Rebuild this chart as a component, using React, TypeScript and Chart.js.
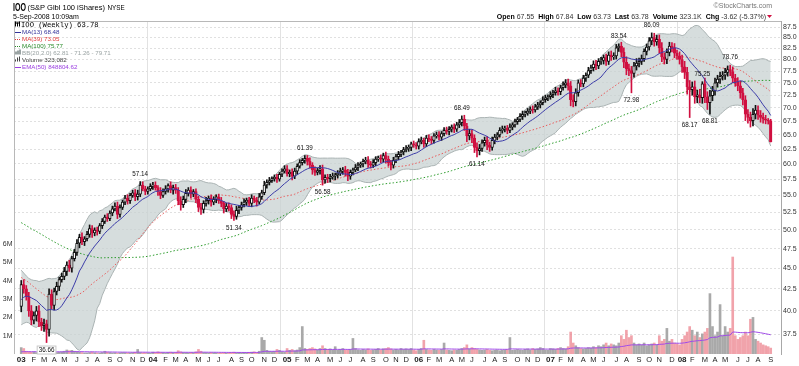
import React, { useEffect, useRef } from 'react';
import { Chart, registerables } from 'chart.js';

Chart.register(...registerables);

const FONT = '"Liberation Sans", Arial, Helvetica, sans-serif';
const MONO = '"Liberation Mono", "DejaVu Sans Mono", monospace';
const RED = '#d01040';

// Weekly closes before the visible range (feed the moving averages / bands)
const priorCloses2001 = [
  63, 62.5, 61.5, 60.5, 60, 58, 58.5, 59, 58.5, 59.5, 60.5, 61, 61.5, 61, 62, 61.5, 61, 60.5,
  59.5, 60, 59.5, 59, 59.5, 58.5, 58, 58.5, 57.5, 57, 57, 56, 54.5, 53, 49.5, 51, 52, 53, 52.5,
  53.5, 52.5, 53.5, 54, 54.5, 54, 54.5, 53.5, 54, 54.5,
];
const priorCloses2002 = [
  54, 52.5, 51.5, 50.5, 50, 49.5, 49, 48.5, 49, 49.5, 49, 48.5, 48, 48, 49.5, 49.5, 49, 49,
  49.5, 48.5, 48, 47.5, 47, 46, 45.5, 45.5, 46, 44.5, 42, 41.5, 42, 43, 44.5, 44.5, 44, 43.5,
  43, 42, 41, 38, 39, 40, 40.5, 41, 41.5, 42, 42.5, 42, 42, 41.5, 41, 40.5,
];

// Visible weekly closes (week ending 3-Jan-2003 ... 5-Sep-2008)
const closes2003 = [
  43.0, 42.5, 41.6, 40.0, 39.0, 39.5, 40.0, 38.8, 38.4, 38.6, 38.0, 41.9, 40.6, 42.2, 42.8,
  43.6, 44.0, 44.6, 45.4, 45.0, 46.2, 47.0, 48.2, 49.0, 48.4, 48.8, 49.4, 50.2, 49.6, 50.0,
  49.8, 50.6, 51.2, 51.8, 51.6, 52.4, 53.0, 53.4, 52.2, 53.2, 54.0, 54.6, 54.2, 55.0, 55.4,
  54.8, 55.2, 56.6, 56.0, 55.6, 56.0, 56.4,
];
const closes2004 = [
  56.6, 56.2, 55.6, 55.0, 55.6, 56.0, 56.5, 55.8, 56.2, 55.8, 54.2, 53.6, 54.4, 55.3, 55.8,
  55.2, 55.6, 54.4, 53.2, 52.9, 53.8, 54.2, 54.6, 54.0, 54.4, 54.8, 54.2, 53.8, 53.0, 53.4,
  53.2, 52.2, 51.9, 52.8, 53.2, 53.6, 54.0, 54.3, 53.8, 54.6, 54.3, 54.0, 54.8, 55.4, 56.6,
  57.0, 57.3, 57.6, 57.8, 57.5, 58.3, 58.8, 59.2,
];
const closes2005 = [
  58.4, 58.6, 58.0, 58.8, 59.6, 60.2, 60.6, 60.9, 60.4, 59.8, 59.0, 58.6, 58.9, 59.2, 57.4,
  57.8, 57.6, 57.9, 58.0, 58.2, 58.5, 58.8, 59.0, 58.6, 58.0, 58.6, 59.0, 59.4, 59.8, 60.0,
  60.4, 60.6, 60.0, 59.8, 60.2, 60.8, 61.0, 60.8, 61.4, 60.8, 60.2, 59.8, 60.6, 61.2, 61.6,
  62.0, 62.4, 62.6, 62.8, 63.4, 63.2, 63.0,
];
const closes2006 = [
  63.8, 64.0, 63.4, 64.4, 64.2, 64.0, 64.8, 65.0, 64.6, 65.2, 65.8, 65.6, 66.0, 66.4, 66.0,
  66.8, 67.2, 67.9, 66.6, 64.8, 65.2, 64.4, 62.8, 62.2, 62.6, 63.6, 64.0, 63.2, 62.8, 64.0,
  64.6, 65.0, 65.8, 66.0, 66.2, 65.8, 66.4, 66.8, 67.4, 67.8, 68.4, 68.8, 69.0, 69.4, 69.8,
  69.6, 70.2, 70.6, 71.0, 71.6, 72.0, 72.2,
];
const closes2007 = [
  72.6, 73.0, 73.4, 73.2, 74.0, 74.6, 75.0, 74.4, 71.6, 71.2, 73.0, 75.0, 74.8, 76.0, 76.6,
  77.6, 78.2, 79.0, 78.6, 79.6, 79.8, 80.4, 79.6, 81.0, 80.6, 80.8, 82.6, 83.0, 81.6, 79.4,
  78.0, 77.6, 77.0, 78.6, 79.2, 79.6, 80.2, 81.8, 82.8, 84.2, 85.0, 84.0, 84.6, 82.6, 80.6,
  80.0, 81.6, 83.0, 82.6, 81.4, 80.8, 80.0,
];
const closes2008 = [
  78.4, 77.2, 74.2, 73.6, 74.2, 72.2, 72.6, 72.0, 74.8, 72.2, 71.0, 72.4, 73.4, 75.0, 75.8,
  76.4, 76.6, 77.2, 77.8, 77.4, 76.0, 75.2, 74.4, 73.0, 71.6, 68.8, 68.2, 67.6, 68.8, 69.6,
  68.6, 68.2, 67.9, 67.7, 67.55, 63.78,
];

// Shadow lengths above / below the candle bodies
const wickUp2003 = [
  0.5, 0.6, 0.4, 0.5, 0.6, 0.4, 0.5, 0.6, 0.4, 0.5, 0.4, 0.6, 0.5, 0.4, 0.5, 0.3, 0.4, 0.5,
  0.4, 0.6, 0.3, 0.4, 0.5, 0.4, 0.6, 0.3, 0.4, 0.5, 0.4, 0.3, 0.4, 0.3, 0.4, 0.3, 0.5, 0.3,
  0.4, 0.5, 0.6, 0.4, 0.3, 0.4, 0.5, 0.3, 0.4, 0.5, 0.6, 0.3, 0.5, 0.4, 0.3, 0.4,
];
const wickDn2003 = [
  0.6, 0.5, 0.4, 0.6, 0.5, 0.4, 0.6, 0.5, 0.5, 0.6, 0.5, 0.7, 0.4, 0.5, 0.4, 0.5, 0.3, 0.4,
  0.5, 0.4, 0.5, 0.3, 0.4, 0.6, 0.4, 0.5, 0.3, 0.4, 0.6, 0.4, 0.5, 0.3, 0.4, 0.3, 0.4, 0.3,
  0.4, 0.3, 0.6, 0.4, 0.3, 0.4, 0.5, 0.4, 0.3, 0.6, 0.5, 0.4, 0.3, 0.5, 0.4, 0.3,
];
const wickUp2004 = [
  0.4, 0.5, 0.3, 0.6, 0.4, 0.5, 0.3, 0.6, 0.4, 0.5, 0.4, 0.6, 0.5, 0.6, 0.4, 0.5, 0.3, 0.4,
  0.5, 0.6, 0.4, 0.5, 0.3, 0.5, 0.4, 0.3, 0.4, 0.5, 0.3, 0.4, 0.5, 0.4, 0.5, 0.6, 0.3, 0.4,
  0.5, 0.3, 0.4, 0.5, 0.3, 0.4, 0.5, 0.4, 0.6, 0.4, 0.5, 0.3, 0.4, 0.5, 0.3, 0.4, 0.5,
];
const wickDn2004 = [
  0.5, 0.4, 0.6, 0.5, 0.3, 0.4, 0.5, 0.4, 0.6, 0.5, 0.6, 0.8, 0.4, 0.5, 0.4, 0.6, 0.4, 0.5,
  0.6, 0.7, 0.5, 0.4, 0.5, 0.6, 0.4, 0.5, 0.4, 0.5, 0.6, 0.4, 0.5, 0.6, 0.5, 0.4, 0.5, 0.4,
  0.3, 0.5, 0.4, 0.5, 0.4, 0.6, 0.3, 0.4, 0.3, 0.5, 0.4, 0.3, 0.4, 0.5, 0.3, 0.4, 0.3,
];
const wickUp2005 = [
  0.5, 0.4, 0.6, 0.5, 0.4, 0.5, 0.3, 0.4, 0.5, 0.6, 0.4, 0.5, 0.4, 0.5, 0.6, 0.4, 0.5, 0.4,
  0.5, 0.3, 0.4, 0.5, 0.4, 0.6, 0.5, 0.4, 0.3, 0.5, 0.4, 0.3, 0.4, 0.5, 0.6, 0.4, 0.5, 0.4,
  0.3, 0.5, 0.4, 0.6, 0.5, 0.4, 0.5, 0.4, 0.5, 0.3, 0.4, 0.5, 0.4, 0.3, 0.5, 0.4,
];
const wickDn2005 = [
  0.4, 0.5, 0.6, 0.4, 0.5, 0.3, 0.4, 0.5, 0.6, 0.5, 0.7, 0.5, 0.4, 0.6, 0.5, 0.5, 0.6, 0.5,
  0.4, 0.6, 0.5, 0.4, 0.5, 0.6, 0.7, 0.5, 0.4, 0.3, 0.5, 0.4, 0.5, 0.4, 0.6, 0.5, 0.4, 0.5,
  0.4, 0.6, 0.5, 0.7, 0.6, 0.8, 0.5, 0.4, 0.5, 0.4, 0.5, 0.4, 0.5, 0.6, 0.4, 0.5,
];
const wickUp2006 = [
  0.5, 0.6, 0.4, 0.5, 0.6, 0.5, 0.4, 0.5, 0.6, 0.4, 0.5, 0.6, 0.5, 0.4, 0.6, 0.5, 0.6, 0.6,
  0.7, 0.5, 0.8, 0.7, 0.6, 0.8, 0.7, 0.5, 0.6, 0.7, 0.5, 0.6, 0.5, 0.4, 0.5, 0.6, 0.4, 0.5,
  0.6, 0.4, 0.5, 0.4, 0.5, 0.6, 0.4, 0.5, 0.4, 0.6, 0.5, 0.5, 0.4, 0.6, 0.5, 0.4,
];
const wickDn2006 = [
  0.5, 0.4, 0.6, 0.5, 0.4, 0.6, 0.5, 0.4, 0.5, 0.6, 0.4, 0.5, 0.6, 0.5, 0.6, 0.4, 0.5, 0.6,
  0.8, 1.0, 0.7, 0.8, 0.9, 0.6, 0.7, 0.5, 0.6, 0.8, 0.7, 0.5, 0.6, 0.5, 0.4, 0.5, 0.5, 0.6,
  0.4, 0.5, 0.4, 0.5, 0.4, 0.6, 0.5, 0.4, 0.5, 0.6, 0.4, 0.5, 0.6, 0.4, 0.5, 0.6,
];
const wickUp2007 = [
  0.6, 0.5, 0.7, 0.6, 0.5, 0.6, 0.7, 0.8, 0.9, 1.0, 0.8, 0.6, 0.7, 0.6, 0.5, 0.7, 0.6, 0.7,
  0.8, 0.6, 0.7, 0.6, 0.8, 0.7, 0.9, 0.7, 0.8, 0.7, 0.9, 1.0, 1.2, 1.0, 0.9, 0.8, 1.0, 0.7,
  0.8, 0.6, 0.7, 0.8, 0.7, 1.0, 0.9, 1.0, 1.2, 0.9, 0.8, 0.9, 0.8, 1.0, 0.7, 0.9,
];
const wickDn2007 = [
  0.5, 0.6, 0.5, 0.7, 0.6, 0.5, 0.6, 0.9, 1.2, 1.0, 0.8, 0.7, 0.6, 0.6, 0.7, 0.5, 0.6, 0.7,
  0.8, 0.6, 0.7, 0.8, 0.9, 0.7, 0.8, 0.6, 0.7, 0.8, 1.0, 1.2, 1.3, 1.1, 1.0, 0.8, 0.9, 0.8,
  0.7, 0.6, 0.8, 0.7, 0.9, 1.0, 0.8, 1.2, 1.1, 1.0, 0.9, 0.8, 0.9, 1.0, 0.8, 1.0,
];
const wickUp2008 = [
  1.0, 1.2, 1.1, 1.3, 1.0, 1.2, 0.9, 1.1, 0.9, 1.2, 1.0, 1.1, 0.9, 1.0, 0.8, 0.9, 0.8, 0.9,
  0.8, 0.9, 1.0, 0.8, 0.9, 1.0, 0.9, 0.8, 0.9, 1.0, 1.1, 0.9, 0.8, 0.9, 0.8, 0.7, 0.3, 0.29,
];
const wickDn2008 = [
  1.2, 1.3, 1.5, 1.2, 1.1, 1.3, 1.2, 1.0, 1.1, 1.2, 1.3, 1.2, 1.0, 0.9, 0.8, 0.9, 0.8, 0.9,
  0.8, 0.9, 1.0, 0.9, 1.0, 1.1, 1.0, 1.2, 1.1, 1.2, 1.0, 0.9, 0.8, 0.9, 0.8, 0.7, 0.6, 0.05,
];

// Weekly volume, millions of shares
const volumes2003 = [
  0.35, 0.3, 0.15, 0.12, 0.1, 0.12, 0.08, 0.15, 0.1, 0.12, 0.18, 0.1, 0.08, 0.06, 0.08, 0.1,
  0.12, 0.15, 0.22, 0.18, 0.2, 0.15, 0.12, 0.1, 0.08, 0.06, 0.06, 0.08, 0.1, 0.07, 0.06, 0.05,
  0.08, 0.15, 0.1, 0.08, 0.06, 0.07, 0.05, 0.06, 0.08, 0.07, 0.06, 0.05, 0.07, 0.09, 0.25,
  0.08, 0.06, 0.07, 0.05, 0.04,
];
const volumes2004 = [
  0.1, 0.08, 0.12, 0.09, 0.07, 0.06, 0.08, 0.1, 0.07, 0.09, 0.18, 0.12, 0.08, 0.07, 0.06,
  0.08, 0.07, 0.12, 0.25, 0.15, 0.08, 0.07, 0.06, 0.08, 0.07, 0.06, 0.05, 0.06, 0.07, 0.05,
  0.06, 0.08, 0.1, 0.07, 0.06, 0.07, 0.06, 0.08, 0.09, 0.1, 0.12, 0.08, 0.15, 0.9, 0.75, 0.2,
  0.15, 0.12, 0.15, 0.25, 0.2, 0.12, 0.1,
];
const volumes2005 = [
  0.3, 0.2, 0.25, 0.18, 0.22, 0.35, 1.5, 0.3, 0.25, 0.3, 0.35, 0.28, 0.22, 0.3, 0.45, 0.3,
  0.25, 0.28, 0.22, 0.4, 0.2, 0.25, 0.3, 0.22, 0.2, 0.25, 0.85, 0.3, 0.22, 0.2, 0.25, 0.22,
  0.28, 0.2, 0.22, 0.25, 0.3, 0.22, 0.28, 0.3, 0.35, 0.28, 0.22, 0.25, 0.22, 0.3, 0.25, 0.28,
  0.25, 0.3, 0.22, 0.18,
];
const volumes2006 = [
  0.25, 0.3, 0.75, 0.25, 0.22, 0.2, 0.25, 0.22, 0.2, 0.25, 0.6, 0.22, 0.2, 0.18, 0.22, 0.2,
  0.25, 0.3, 0.35, 0.5, 0.28, 0.35, 0.3, 0.25, 0.22, 0.2, 0.22, 0.25, 0.2, 0.18, 0.2, 0.22,
  0.18, 0.2, 0.22, 0.25, 0.9, 0.2, 0.22, 0.25, 0.22, 0.2, 0.25, 0.28, 0.22, 0.3, 0.25, 0.28,
  0.35, 0.3, 0.22, 0.2,
];
const volumes2007 = [
  0.3, 0.28, 0.25, 0.3, 0.35, 0.3, 0.28, 0.4, 1.2, 0.6, 0.45, 0.35, 0.3, 0.28, 0.3, 0.35,
  0.32, 0.4, 0.35, 0.45, 0.4, 0.5, 0.6, 0.45, 0.55, 0.5, 0.45, 0.6, 1.0, 0.8, 1.3, 0.9, 1.0,
  0.6, 0.5, 0.55, 0.5, 0.6, 0.45, 0.5, 0.55, 0.6, 0.5, 1.0, 0.7, 0.8, 1.4, 0.7, 0.8, 0.6, 0.55,
  0.5,
];
const volumes2008 = [
  0.8, 1.0, 1.2, 1.5, 1.3, 1.0, 1.2, 0.9, 1.1, 1.2, 1.4, 3.3, 1.5, 1.0, 1.2, 2.7, 1.0, 1.5,
  1.2, 1.4, 5.3, 1.0, 0.8, 0.9, 1.0, 1.2, 1.0, 1.9, 2.0, 0.8, 0.7, 0.6, 0.5, 0.45, 0.4, 0.323,
];

// Swing-high / swing-low price labels (week index, value)
const pivots = [
  { i: 10, v: 36.66, side: 'low', box: true },
  { i: 47, v: 57.14, side: 'high' },
  { i: 84, v: 51.34, side: 'low' },
  { i: 112, v: 61.39, side: 'high' },
  { i: 119, v: 56.58, side: 'low' },
  { i: 174, v: 68.49, side: 'high' },
  { i: 180, v: 61.14, side: 'low' },
  { i: 236, v: 83.54, side: 'high' },
  { i: 241, v: 72.98, side: 'low' },
  { i: 249, v: 86.09, side: 'high' },
  { i: 264, v: 68.17, side: 'low' },
  { i: 269, v: 75.25, side: 'high' },
  { i: 272, v: 68.81, side: 'low' },
  { i: 280, v: 78.76, side: 'high' },
];

const priceTicks = [
  37.5, 40, 42.5, 45, 47.5, 50, 52.5, 55, 57.5, 60, 62.5, 65, 67.5, 70, 72.5, 75, 77.5, 80,
  82.5, 85, 87.5,
];
const volumeTicks = [1, 2, 3, 4, 5, 6];
const monthLetters = ['J', 'F', 'M', 'A', 'M', 'J', 'J', 'A', 'S', 'O', 'N', 'D'];
const firstWeekUTC = Date.UTC(2003, 0, 3);

const legendRows = [
  { text: 'IOO (Weekly) 63.78', color: '#000', icon: 'candle' },
  { text: 'MA(13) 68.48', color: '#33339a', icon: 'line' },
  { text: 'MA(39) 73.05', color: '#e03a3a', icon: 'dots' },
  { text: 'MA(100) 75.77', color: '#2a8a2a', icon: 'dots' },
  { text: 'BB(20,2.0) 62.81 - 71.26 - 79.71', color: '#9aa3a3', icon: 'band' },
  { text: 'Volume 323,082', color: '#444', icon: 'bars' },
  { text: 'EMA(50) 848804.62', color: '#9a3ee0', icon: 'line' },
];

const headerStats = [
  ['Open', '67.55'],
  ['High', '67.84'],
  ['Low', '63.73'],
  ['Last', '63.78'],
  ['Volume', '323.1K'],
  ['Chg', '-3.62 (-5.37%)'],
];

// ---------- derived series ----------
const priorCloses = [...priorCloses2001, ...priorCloses2002];
const closes = [...closes2003, ...closes2004, ...closes2005, ...closes2006, ...closes2007, ...closes2008];
const wickUp = [...wickUp2003, ...wickUp2004, ...wickUp2005, ...wickUp2006, ...wickUp2007, ...wickUp2008];
const wickDn = [...wickDn2003, ...wickDn2004, ...wickDn2005, ...wickDn2006, ...wickDn2007, ...wickDn2008];
const volumes = [...volumes2003, ...volumes2004, ...volumes2005, ...volumes2006, ...volumes2007, ...volumes2008];

const P = priorCloses.length;
const allCloses = [...priorCloses, ...closes];
const opens = closes.map((c, i) => (i === 0 ? priorCloses[P - 1] : closes[i - 1]));
const highs = closes.map((c, i) => Math.max(opens[i], c) + (wickUp[i] ?? 0.4));
const lows = closes.map((c, i) => Math.min(opens[i], c) - (wickDn[i] ?? 0.4));
pivots.forEach((p) => {
  if (p.side === 'high') highs[p.i] = p.v;
  else lows[p.i] = p.v;
});

const sma = (n: number) =>
  closes.map((_, i) => {
    let s = 0;
    for (let k = 0; k < n; k++) s += allCloses[P + i - k];
    return s / n;
  });
const ma13 = sma(13);
const ma39 = sma(39);
const ma100 = sma(100);
const bbMid = sma(20);
const bbSd = closes.map((_, i) => {
  let s = 0;
  for (let k = 0; k < 20; k++) s += (allCloses[P + i - k] - bbMid[i]) ** 2;
  return Math.sqrt(s / 20);
});
const bbUp = bbMid.map((m, i) => m + 2 * bbSd[i]);
const bbLo = bbMid.map((m, i) => m - 2 * bbSd[i]);

const volEma: number[] = [];
{
  const k = 2 / 51;
  let e = volumes.slice(0, 50).reduce((a, b) => a + b, 0) / 50;
  volumes.forEach((v) => {
    e = v * k + e * (1 - k);
    volEma.push(e);
  });
}

const monthTicks: { i: number; label: string; year: boolean }[] = [];
closes.forEach((_, i) => {
  const d = new Date(firstWeekUTC + i * 7 * 864e5);
  const prev = new Date(firstWeekUTC + (i - 1) * 7 * 864e5);
  if (i === 0 || d.getUTCMonth() !== prev.getUTCMonth()) {
    const m = d.getUTCMonth();
    monthTicks.push({
      i,
      label: m === 0 ? String(d.getUTCFullYear()).slice(2) : monthLetters[m],
      year: m === 0,
    });
  }
});

const xy = (arr: number[]) => arr.map((v, i) => ({ x: i, y: v }));
const isUp = closes.map((c, i) => c >= opens[i]);

const overlayPlugin = {
  id: 'overlay',
  afterDraw(chart: any) {
    const ctx: CanvasRenderingContext2D = chart.ctx;
    const { left, right, top, bottom } = chart.chartArea;
    const xs = chart.scales.x;
    const ys = chart.scales.y;
    const yv = chart.scales.yv;
    ctx.save();

    // frame
    ctx.strokeStyle = '#b8b8b8';
    ctx.lineWidth = 1;
    ctx.beginPath();
    ctx.moveTo(Math.floor(left) + 0.5, Math.floor(top) + 0.5);
    ctx.lineTo(right, Math.floor(top) + 0.5);
    ctx.moveTo(Math.floor(left) + 0.5, Math.floor(top) + 0.5);
    ctx.lineTo(Math.floor(left) + 0.5, bottom);
    ctx.stroke();

    // volume axis labels (left)
    ctx.font = `7px ${FONT}`;
    ctx.fillStyle = '#333';
    ctx.textAlign = 'right';
    ctx.textBaseline = 'middle';
    volumeTicks.forEach((v) => {
      ctx.fillText(`${v}M`, 12.5, yv.getPixelForValue(v));
    });

    // pivot labels
    ctx.font = `6.3px ${FONT}`;
    ctx.textAlign = 'center';
    ctx.textBaseline = 'middle';
    pivots.forEach((p) => {
      const x = xs.getPixelForValue(p.i);
      const y = ys.getPixelForValue(p.v) + (p.side === 'high' ? -7.5 : 7.5);
      const t = p.v.toFixed(2);
      if (p.box) {
        const w = ctx.measureText(t).width;
        ctx.fillStyle = '#fff';
        ctx.fillRect(x - w / 2 - 1.5, y - 4, w + 3, 8);
        ctx.strokeStyle = '#c8c8c8';
        ctx.strokeRect(x - w / 2 - 1.5, y - 4, w + 3, 8);
      }
      ctx.fillStyle = '#111';
      ctx.fillText(t, x, y);
    });

    // legend rows
    ctx.textAlign = 'left';
    ctx.textBaseline = 'alphabetic';
    legendRows.forEach((r, k) => {
      const base = 27 + k * 7;
      const cy = base - 2.5;
      ctx.fillStyle = r.color;
      if (r.icon === 'candle') {
        ctx.fillRect(15, cy - 3, 1, 5);
        ctx.fillRect(17, cy - 2, 1, 4);
        ctx.fillRect(19, cy - 3, 1, 5);
        ctx.fillRect(16, cy - 2, 3, 1);
      } else if (r.icon === 'line') {
        ctx.fillRect(15, Math.round(cy), 6, 1);
      } else if (r.icon === 'dots') {
        for (let d = 0; d < 3; d++) ctx.fillRect(15 + d * 2, Math.round(cy), 1, 1);
      } else if (r.icon === 'band') {
        ctx.fillRect(15, cy - 1, 2, 3);
        ctx.fillRect(17, cy - 2, 2, 4);
        ctx.fillRect(19, cy - 3, 2, 5);
      } else if (r.icon === 'bars') {
        ctx.fillRect(15, cy, 1, 2);
        ctx.fillRect(17, cy - 2, 1, 4);
        ctx.fillRect(19, cy - 3, 1, 5);
      }
      if (k === 0) {
        ctx.font = `7.2px ${MONO}`;
        ctx.fillStyle = '#000';
        ctx.fillText(r.text, 21, base);
      } else {
        ctx.font = `6.2px ${FONT}`;
        ctx.fillText(r.text, 22, base);
      }
    });

    // header, left
    ctx.fillStyle = '#000';
    ctx.font = `bold 10.5px ${FONT}`;
    {
      const w = ctx.measureText('IOO').width;
      ctx.save();
      ctx.translate(13, 10.5);
      ctx.scale(13 / w, 1);
      ctx.fillText('IOO', 0, 0);
      ctx.restore();
    }
    ctx.font = `7.5px ${FONT}`;
    ctx.fillText('(S&P Glbl 100 iShares)', 27.5, 10);
    ctx.font = `6.3px ${FONT}`;
    ctx.fillText('NYSE', 107.5, 10);
    ctx.font = `7px ${FONT}`;
    ctx.fillText('5-Sep-2008 10:09am', 13, 18.5);

    // header, right
    ctx.textAlign = 'right';
    ctx.fillStyle = '#777';
    ctx.font = `7px ${FONT}`;
    ctx.fillText('\u00a9StockCharts.com', 772, 8);
    let xr = 766;
    ctx.fillStyle = RED;
    ctx.beginPath();
    ctx.moveTo(xr + 1, 15);
    ctx.lineTo(xr + 6, 15);
    ctx.lineTo(xr + 3.5, 18);
    ctx.closePath();
    ctx.fill();
    for (let k = headerStats.length - 1; k >= 0; k--) {
      const [lab, val] = headerStats[k];
      ctx.font = `7px ${FONT}`;
      ctx.fillStyle = '#333';
      ctx.fillText(val, xr, 18.5);
      xr -= ctx.measureText(val).width + 2;
      ctx.font = `bold 7px ${FONT}`;
      ctx.fillStyle = '#000';
      ctx.fillText(lab, xr, 18.5);
      xr -= ctx.measureText(lab).width + 4;
    }
    ctx.restore();
  },
};

export default function App() {
  const ref = useRef<HTMLCanvasElement | null>(null);

  useEffect(() => {
    if (!ref.current) return;
    const chart = new Chart(ref.current, {
      type: 'bar',
      data: {
        datasets: [
          {
            type: 'line',
            data: xy(bbLo),
            borderColor: '#aab3b3',
            borderWidth: 1,
            pointRadius: 0,
            fill: false,
            yAxisID: 'y',
            order: 10,
          } as any,
          {
            type: 'line',
            data: xy(bbUp),
            borderColor: '#aab3b3',
            borderWidth: 1,
            pointRadius: 0,
            fill: '-1',
            backgroundColor: 'rgba(200,210,210,0.75)',
            yAxisID: 'y',
            order: 10,
          } as any,
          {
            type: 'bar',
            data: volumes.map((v, i) => ({ x: i, y: v })),
            backgroundColor: closes.map((c, i) => (c >= opens[i] ? '#a9a9a9' : 'rgba(238,140,150,0.8)')),
            barThickness: 2,
            grouped: false,
            yAxisID: 'yv',
            order: 9,
          } as any,
          {
            type: 'line',
            data: xy(volEma),
            borderColor: '#a04ae8',
            borderWidth: 1,
            pointRadius: 0,
            yAxisID: 'yv',
            order: 8,
          } as any,
          {
            type: 'line',
            data: xy(ma100),
            borderColor: '#2a9a2a',
            borderWidth: 1,
            borderDash: [1.5, 2],
            pointRadius: 0,
            yAxisID: 'y',
            order: 5,
          } as any,
          {
            type: 'line',
            data: xy(ma39),
            borderColor: '#e85a5a',
            borderWidth: 1,
            borderDash: [1.5, 2],
            pointRadius: 0,
            yAxisID: 'y',
            order: 5,
          } as any,
          {
            type: 'bar',
            data: closes.map((c, i) => ({ x: i, y: [lows[i], highs[i]] })),
            backgroundColor: isUp.map((u) => (u ? '#111' : RED)),
            barThickness: 1,
            grouped: false,
            yAxisID: 'y',
            order: 3,
          } as any,
          {
            type: 'bar',
            data: closes.map((c, i) => ({ x: i, y: [Math.min(opens[i], c), Math.max(opens[i], c)] })),
            backgroundColor: isUp.map((u) => (u ? '#ffffff' : RED)),
            borderColor: isUp.map((u) => (u ? '#111' : RED)),
            borderWidth: 1,
            borderSkipped: false,
            barThickness: 2.6,
            grouped: false,
            yAxisID: 'y',
            order: 2,
          } as any,
          {
            type: 'line',
            data: xy(ma13),
            borderColor: '#3c3ca8',
            borderWidth: 1,
            pointRadius: 0,
            yAxisID: 'y',
            order: 1,
          } as any,
        ],
      },
      options: {
        animation: false,
        responsive: false,
        devicePixelRatio: 1,
        events: [],
        layout: { padding: { top: 21, left: 0, right: 0, bottom: 0 } },
        plugins: { legend: { display: false }, tooltip: { enabled: false } },
        scales: {
          x: {
            type: 'linear',
            position: 'bottom',
            min: -0.66,
            max: 297.87,
            afterBuildTicks: (s: any) => {
              s.ticks = monthTicks.map((t) => ({ value: t.i }));
            },
            afterFit: (s: any) => {
              s.height = 12;
            },
            ticks: {
              autoSkip: false,
              maxRotation: 0,
              padding: 1,
              color: '#222',
              callback: (_v: any, idx: number) => monthTicks[idx]?.label ?? '',
              font: (c: any) => ({
                family: FONT,
                size: monthTicks[c.index]?.year ? 8 : 7.5,
                weight: monthTicks[c.index]?.year ? 'bold' : 'normal',
              }),
            },
            grid: {
              drawTicks: false,
              color: (c: any) => (monthTicks[c.index]?.year ? '#e2e2e2' : 'rgba(0,0,0,0)'),
            },
            border: { display: false },
          },
          y: {
            type: 'logarithmic',
            position: 'right',
            min: 35.52,
            max: 88.96,
            afterBuildTicks: (s: any) => {
              s.ticks = priceTicks.map((v) => ({ value: v }));
            },
            afterFit: (s: any) => {
              s.width = 18;
            },
            ticks: {
              padding: 2,
              color: '#333',
              font: { family: FONT, size: 7 },
              callback: (v: any) => Number(v).toFixed(1),
            },
            grid: { color: '#e0e0e0', drawTicks: false },
            border: { display: true, color: '#a8a8a8', dash: [2, 2] },
          },
          yv: {
            type: 'linear',
            position: 'left',
            min: 0,
            max: 18.2,
            afterBuildTicks: (s: any) => {
              s.ticks = volumeTicks.map((v) => ({ value: v }));
            },
            afterFit: (s: any) => {
              s.width = 14;
            },
            ticks: { display: false },
            grid: { display: false },
            border: { display: false },
          },
        },
      } as any,
      plugins: [overlayPlugin],
    });
    return () => chart.destroy();
  }, []);

  return (
    <div style={{ position: 'fixed', left: 0, top: 0, width: 799, height: 366, background: '#fff' }}>
      <canvas ref={ref} width={799} height={366} style={{ width: 799, height: 366, display: 'block' }} />
    </div>
  );
}
